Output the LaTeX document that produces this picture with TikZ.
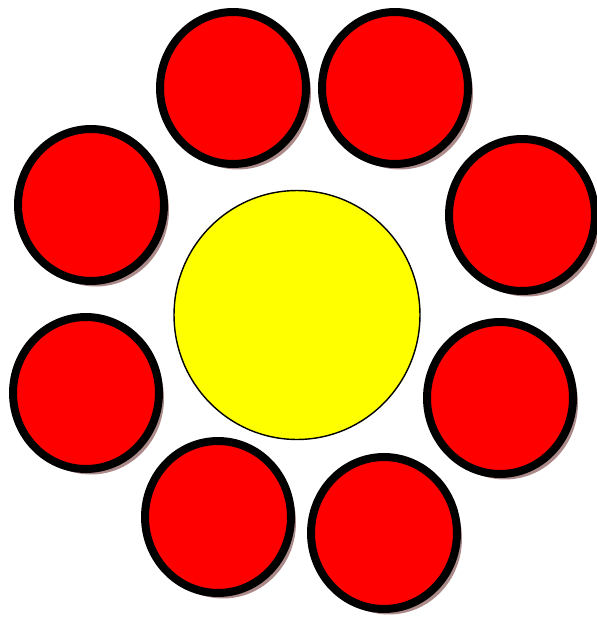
\documentclass[tikz,border=0pt]{standalone}
\usepackage{tikz}
\usetikzlibrary{shapes.geometric,shadows}

\definecolor{shadowbrown}{RGB}{172,138,138}
\definecolor{coreyellow}{RGB}{255,255,0}
\definecolor{petalred}{RGB}{255,0,0}

\begin{document}
\begin{tikzpicture}[
    x=0.02cm, y=-0.02cm,
    petal/.style={draw, ellipse, line width=0.16cm, fill=petalred, minimum width=2.92cm, minimum height=3.04cm, drop shadow={shadow xshift=0.1cm, shadow yshift=-0.11cm, fill=shadowbrown, opacity=1}},
    core/.style={draw, ellipse, line width=0.8pt, fill=coreyellow, minimum width=4.92cm, minimum height=4.98cm}
]
\useasboundingbox (0,0) rectangle (597,619);

% Centro amarelo
\node[core] (core) at (297,315) {};

% Anel de circulos vermelhos
\node[petal] (topleft) at (233,88) {};
\node[petal] (topright) at (395,88) {};
\node[petal] (rightup) at (522,215) {};
\node[petal] (rightlow) at (500,398) {};
\node[petal] (bottomright) at (384,533) {};
\node[petal] (bottomleft) at (218,517) {};
\node[petal] (leftlow) at (86,393) {};
\node[petal] (leftup) at (91,205) {};

\end{tikzpicture}
\end{document}
